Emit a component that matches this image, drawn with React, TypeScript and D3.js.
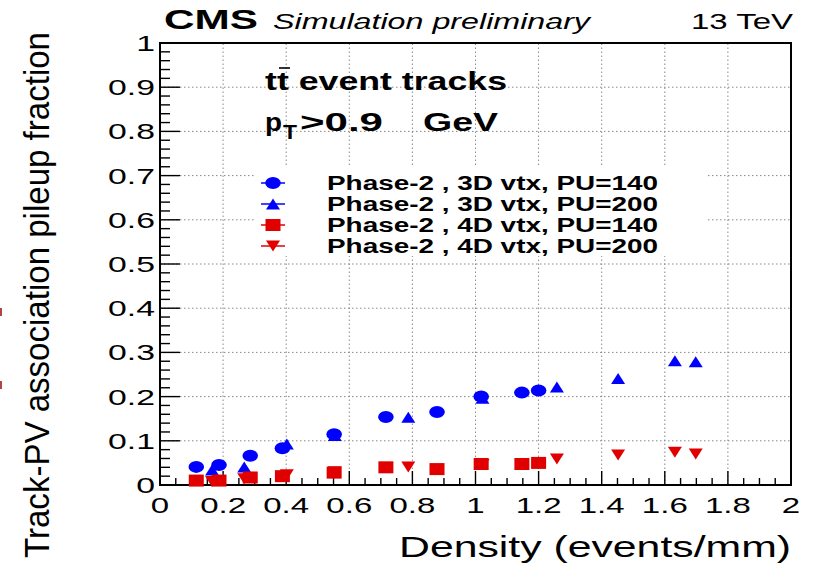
import React from "react";
import * as d3 from "d3";

const densityPU140 = [0.115, 0.187, 0.286, 0.388, 0.552, 0.716, 0.878, 1.018, 1.147, 1.2];
const densityPU200 = [0.165, 0.267, 0.402, 0.554, 0.787, 1.022, 1.258, 1.452, 1.632, 1.698];
const vtx3D_PU140 = [0.041, 0.045, 0.066, 0.083, 0.115, 0.154, 0.165, 0.2, 0.209, 0.214];
const vtx3D_PU200 = [0.034, 0.041, 0.093, 0.112, 0.153, 0.196, 0.222, 0.241, 0.281, 0.279];
const vtx4D_PU140 = [0.01, 0.01, 0.017, 0.02, 0.028, 0.04, 0.036, 0.0475, 0.0475, 0.05];
const vtx4D_PU200 = [0.008, 0.014, 0.023, 0.03, 0.041, 0.046, 0.059, 0.068, 0.074, 0.07];

const legendLabels = [
  "Phase-2 , 3D vtx, PU=140",
  "Phase-2 , 3D vtx, PU=200",
  "Phase-2 , 4D vtx, PU=140",
  "Phase-2 , 4D vtx, PU=200",
];
const xTickLabels = ["0", "0.2", "0.4", "0.6", "0.8", "1", "1.2", "1.4", "1.6", "1.8", "2"];
const yTickLabels = ["0", "0.1", "0.2", "0.3", "0.4", "0.5", "0.6", "0.7", "0.8", "0.9", "1"];

const BLUE = "#0000ff";
const RED = "#e00000";
const FONT = "'Liberation Sans', Arial, Helvetica, sans-serif";

type Shape = "circle" | "up" | "square" | "down";

function Marker({ shape, cx, cy, color }: { shape: Shape; cx: number; cy: number; color: string }) {
  if (shape === "circle") return <ellipse cx={cx} cy={cy} rx={7.8} ry={6} fill={color} />;
  if (shape === "square") return <rect x={cx - 7.5} y={cy - 6} width={15} height={12} fill={color} />;
  if (shape === "up")
    return <path d={`M${cx - 7},${cy + 5.5}L${cx + 7},${cy + 5.5}L${cx},${cy - 5.5}Z`} fill={color} />;
  return <path d={`M${cx - 7},${cy - 5.5}L${cx + 7},${cy - 5.5}L${cx},${cy + 5.5}Z`} fill={color} />;
}

export default function App() {
  const x = d3.scaleLinear().domain([0, 2]).range([160, 791]);
  const y = d3.scaleLinear().domain([0, 1]).range([485, 43]);

  const xMajor = d3.range(0, 11).map((i) => i * 0.2);
  const xMinor = d3.range(0, 41).map((i) => i * 0.05);
  const yMajor = d3.range(0, 11).map((i) => i * 0.1);
  const yMinor = d3.range(0, 51).map((i) => i * 0.02);

  const series: { xs: number[]; ys: number[]; shape: Shape; color: string }[] = [
    { xs: densityPU140, ys: vtx3D_PU140, shape: "circle", color: BLUE },
    { xs: densityPU200, ys: vtx3D_PU200, shape: "up", color: BLUE },
    { xs: densityPU140, ys: vtx4D_PU140, shape: "square", color: RED },
    { xs: densityPU200, ys: vtx4D_PU200, shape: "down", color: RED },
  ];

  const legendY = [183, 204, 225, 246];

  return (
    <svg
      width={815}
      height={565}
      style={{ position: "absolute", left: 0, top: 0, background: "#fff" }}
      fontFamily={FONT}
    >
      <rect x={0} y={0} width={815} height={565} fill="#fff" />

      {/* grid */}
      {xMajor.slice(1, -1).map((v, i) => (
        <line key={"gx" + i} x1={x(v)} x2={x(v)} y1={y(0)} y2={y(1)} stroke="#888" strokeWidth={1} strokeDasharray="1.5,2.5" />
      ))}
      {yMajor.slice(1, -1).map((v, i) => (
        <line key={"gy" + i} x1={x(0)} x2={x(2)} y1={y(v)} y2={y(v)} stroke="#888" strokeWidth={1} strokeDasharray="1.5,2.5" />
      ))}

      {/* ticks */}
      {xMinor.map((v, i) => {
        const major = i % 4 === 0;
        return (
          <line key={"tx" + i} x1={x(v)} x2={x(v)} y1={y(0)} y2={y(0) - (major ? 14 : 7)} stroke="#000" strokeWidth={1.4} />
        );
      })}
      {yMinor.map((v, i) => {
        const major = i % 5 === 0;
        return (
          <line key={"ty" + i} x1={x(0)} x2={x(0) + (major ? 20 : 10)} y1={y(v)} y2={y(v)} stroke="#000" strokeWidth={1.4} />
        );
      })}

      {/* frame */}
      <rect x={x(0)} y={y(1)} width={x(2) - x(0)} height={y(0) - y(1)} fill="none" stroke="#000" strokeWidth={2} />

      {/* tick labels */}
      {xMajor.map((v, i) => (
        <text key={"lx" + i} transform={`translate(${x(v)},${y(0) + 28}) scale(1.5,1)`} textAnchor="middle" fontSize={22}>
          {xTickLabels[i]}
        </text>
      ))}
      {yMajor.map((v, i) => (
        <text key={"ly" + i} transform={`translate(155,${y(v) + 8}) scale(1.5,1)`} textAnchor="end" fontSize={22.5}>
          {yTickLabels[i]}
        </text>
      ))}

      {/* axis titles */}
      <text x={399} y={557} fontSize={29} textLength={392} lengthAdjust="spacingAndGlyphs">
        Density (events/mm)
      </text>
      <text transform="translate(49,558) rotate(-90)" fontSize={35} textLength={526} lengthAdjust="spacingAndGlyphs">
        Track-PV association pileup fraction
      </text>

      {/* header */}
      <text x={164} y={29} fontSize={27} fontWeight="bold" textLength={94} lengthAdjust="spacingAndGlyphs">
        CMS
      </text>
      <text x={273} y={29} fontSize={22} fontStyle="italic" textLength={317} lengthAdjust="spacingAndGlyphs">
        Simulation preliminary
      </text>
      <text x={691} y={29} fontSize={22} textLength={102} lengthAdjust="spacingAndGlyphs">
        13 TeV
      </text>

      {/* annotations */}
      <text x={265} y={90} fontSize={25} fontWeight="bold" textLength={242} lengthAdjust="spacingAndGlyphs">
        tt event tracks
      </text>
      <line x1={279} x2={290} y1={68} y2={68} stroke="#000" strokeWidth={1.6} />
      <text x={265} y={131} fontSize={25} fontWeight="bold" textLength={17} lengthAdjust="spacingAndGlyphs">
        p
      </text>
      <text x={283} y={139} fontSize={20} fontWeight="bold" textLength={14} lengthAdjust="spacingAndGlyphs">
        T
      </text>
      <text x={300} y={131} fontSize={25} fontWeight="bold" textLength={83} lengthAdjust="spacingAndGlyphs">
        {">0.9"}
      </text>
      <text x={423} y={131} fontSize={25} fontWeight="bold" textLength={75} lengthAdjust="spacingAndGlyphs">
        GeV
      </text>

      {/* legend */}
      <rect x={254} y={167} width={452} height={89} fill="#fff" />
      {legendLabels.map((lab, i) => (
        <g key={"lg" + i}>
          <line x1={261} x2={285} y1={legendY[i]} y2={legendY[i]} stroke={series[i].color} strokeWidth={1.5} />
          <Marker shape={series[i].shape} cx={273} cy={legendY[i]} color={series[i].color} />
          <text x={327} y={legendY[i] + 7} fontSize={19.5} fontWeight="bold" textLength={331} lengthAdjust="spacingAndGlyphs">
            {lab}
          </text>
        </g>
      ))}

      {/* data */}
      {series.map((s, si) =>
        s.xs.map((xv, i) => (
          <Marker key={`m${si}-${i}`} shape={s.shape} cx={x(xv)} cy={y(s.ys[i])} color={s.color} />
        ))
      )}

      {/* stray marks at left edge */}
      <rect x={0} y={308} width={2} height={8} fill="#b04545" />
      <rect x={0} y={381} width={2} height={8} fill="#b04545" />
    </svg>
  );
}
